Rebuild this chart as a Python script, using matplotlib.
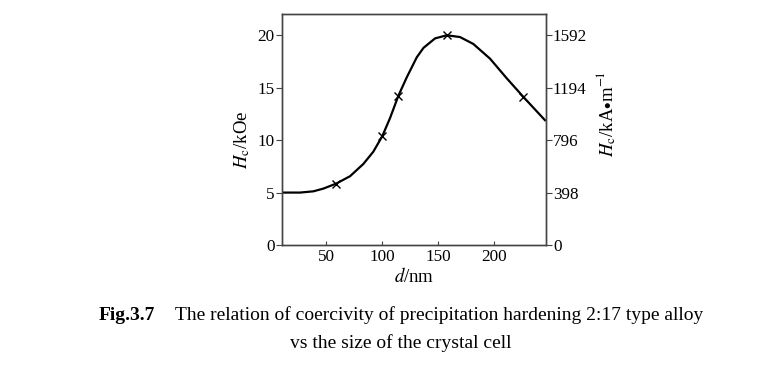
import numpy as np
import matplotlib
matplotlib.use("Agg")
import matplotlib.pyplot as plt

plt.rcParams['font.family'] = ['Liberation Serif', 'DejaVu Serif']
plt.rcParams['mathtext.fontset'] = 'stix'

# curve (d in nm, Hc in kOe)
curve_d = [10.4, 26.8, 38.7, 47.6, 58.9, 71.4, 83.3, 92.2, 100.3, 107.1, 114.6, 122.1,
           131.0, 137.0, 147.3, 157.8, 169.6, 181.5, 196.4, 211.3, 226.2, 245.5]
curve_hc = [5.0, 5.0, 5.12, 5.38, 5.85, 6.56, 7.73, 8.9, 10.4, 12.1, 14.24, 16.0,
            17.9, 18.8, 19.7, 20.0, 19.83, 19.17, 17.77, 15.9, 14.12, 11.9]

# measured points (x markers)
mark_d = [58.9, 100.3, 114.6, 157.8, 226.2]
mark_hc = [5.85, 10.4, 14.24, 20.0, 14.12]

left_ticks = [0, 5, 10, 15, 20]
right_ticks = [0, 398, 796, 1194, 1592]
x_ticks = [50, 100, 150, 200]

fig = plt.figure(figsize=(7.66, 3.82), dpi=100)
ax = fig.add_axes([0.3678, 0.3586, 0.345, 0.604])

ax.plot(curve_d, curve_hc, color='black', lw=1.6, solid_joinstyle='round')
ax.plot(mark_d, mark_hc, 'x', color='black', ms=6, mew=1.0)

ax.set_xlim(10.4, 246.4)
ax.set_ylim(0, 22)
ax.set_xticks(x_ticks)
ax.set_yticks(left_ticks)
ax.tick_params(axis='x', direction='in', length=3, pad=3, labelsize=12.3, color='#444444')
ax.tick_params(axis='y', direction='out', length=4, pad=1, labelsize=12.3, color='#444444')
for s in ax.spines.values():
    s.set_color('#444444')
    s.set_linewidth(1.0)

ax.set_xlabel('$d$/nm', fontsize=13.5, labelpad=1)
ax.text(-0.150, 0.4545, '$H_{\\rm c}$/kOe', transform=ax.transAxes, rotation=90,
        ha='center', va='center', fontsize=13.5)

ax2 = ax.twinx()
ax2.set_ylim(0, 22 * 1592 / 20)
ax2.set_yticks(right_ticks)
ax2.tick_params(axis='y', direction='out', length=4, pad=1, labelsize=12.3, color='#444444')
for s in ax2.spines.values():
    s.set_color('#444444')
    s.set_linewidth(1.0)
ax2.text(1.227, 0.567, '$H_{\\rm c}$/kA$\\bullet$m$^{-1}$', transform=ax.transAxes, rotation=90,
         ha='center', va='center', fontsize=13.5)

fig.text(99 / 766, 1 - 315 / 382, 'Fig.3.7', fontsize=14, fontweight='bold', va='center', ha='left')
fig.text(175 / 766, 1 - 315 / 382,
         'The relation of coercivity of precipitation hardening 2:17 type alloy',
         fontsize=14, va='center', ha='left')
fig.text(290 / 766, 1 - 343 / 382, 'vs the size of the crystal cell',
         fontsize=14, va='center', ha='left')

fig.savefig('out.png', dpi=100)
